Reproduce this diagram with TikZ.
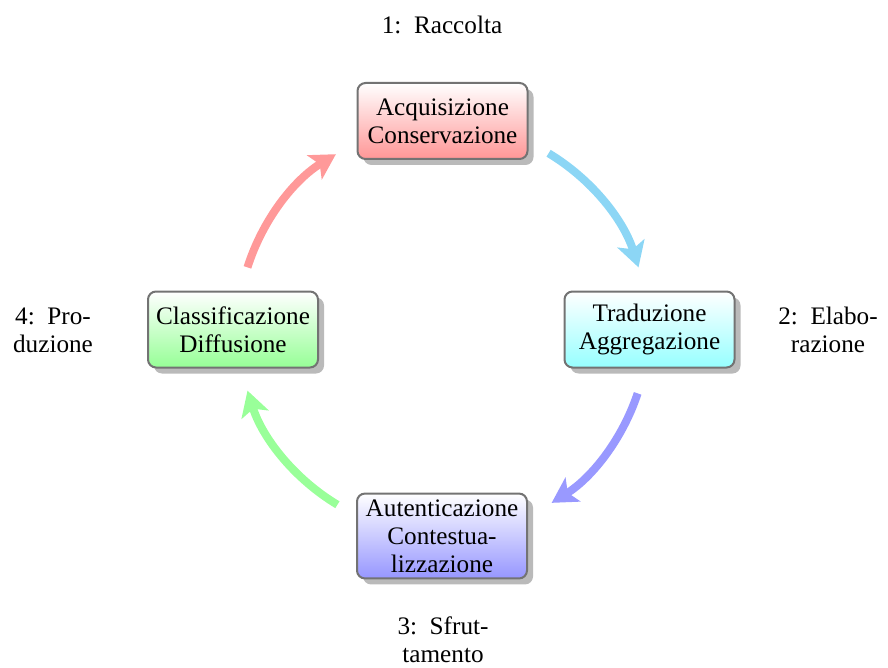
\documentclass[tikz,border=0pt]{standalone}
\usepackage{fontspec}
\setmainfont{Liberation Serif}
\usetikzlibrary{arrows.meta,shadows}
\definecolor{boxborder}{RGB}{115,115,115}
\definecolor{rbot}{RGB}{255,150,150}
\definecolor{cbot}{RGB}{150,255,255}
\definecolor{pbot}{RGB}{150,150,255}
\definecolor{gbot}{RGB}{150,255,150}
\definecolor{rarr}{RGB}{255,153,153}
\definecolor{barr}{RGB}{140,214,245}
\definecolor{parr}{RGB}{153,153,255}
\definecolor{garr}{RGB}{153,255,153}
\newcommand{\colsp}{\hskip 0.5em\relax}
\begin{document}
\begin{tikzpicture}[x=0.5pt,y=-0.5pt,
  box/.style={draw=boxborder, line width=1pt, rounded corners=4pt,
    minimum width=85pt, minimum height=38pt, align=center,
    font=\fontsize{12.6}{14}\selectfont, inner sep=3pt,
    drop shadow={shadow xshift=3pt, shadow yshift=-3pt, fill=black!45, opacity=0.6}},
  lab/.style={align=center, font=\fontsize{12.6}{14}\selectfont},
  arr/.style={line width=4pt, -{Stealth[length=12.5pt,width=14pt,inset=3pt]}}]
\useasboundingbox (0,0) rectangle (888,668);
\coordinate (ctr) at (443,329);
% arrows
\path (ctr) ++(-59:205) coordinate (a1);
\path (ctr) ++(18.3:205) coordinate (a2);
\path (ctr) ++(121:205) coordinate (a3);
\path (ctr) ++(197.5:205) coordinate (a4);
\draw[arr, barr] (a1) arc[start angle=-59, end angle=-17.5, radius=205];
\draw[arr, parr] (a2) arc[start angle=18.3, end angle=58, radius=205];
\draw[arr, garr] (a3) arc[start angle=121, end angle=162.5, radius=205];
\draw[arr, rarr] (a4) arc[start angle=197.5, end angle=238.5, radius=205];
% boxes
\node[box, top color=white, bottom color=rbot] (n1) at (442.5,121) {Acquisizione\\Conservazione};
\node[box, top color=white, bottom color=cbot] (n2) at (649.5,329.5) {Traduzione\\Aggregazione};
\node[box, top color=white, bottom color=pbot] (n3) at (442,536) {Autenticazione\\Contestua-\\lizzazione};
\node[box, top color=white, bottom color=gbot] (n4) at (233,329.5) {Classificazione\\Diffusione};
% labels
\node[lab] (l1) at (442,25) {1:\colsp Raccolta};
\node[lab] (l2) at (828,330) {2:\colsp Elabo-\\razione};
\node[lab] (l3) at (443,640) {3:\colsp Sfrut-\\tamento};
\node[lab] (l4) at (53,330) {4:\colsp Pro-\\duzione};
\end{tikzpicture}
\end{document}
